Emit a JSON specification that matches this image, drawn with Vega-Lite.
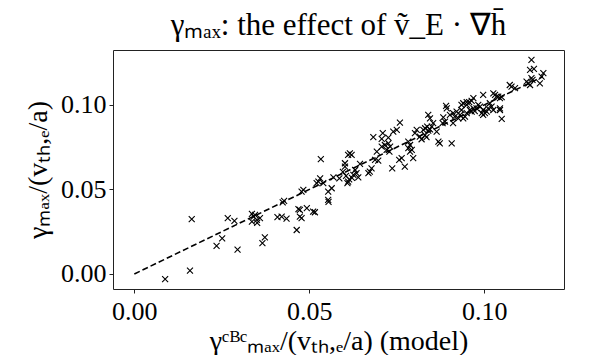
{
  "$schema": "https://vega.github.io/schema/vega-lite/v6.json",
  "width": 451,
  "height": 239,
  "autosize": {"type": "none"},
  "padding": {"left": 113, "top": 50, "right": 34, "bottom": 66},
  "background": "white",
  "config": {
    "view": {"stroke": "#222222", "strokeWidth": 1},
    "font": "Liberation Serif",
    "axis": {
      "grid": false,
      "domain": false,
      "tickColor": "#222222",
      "tickSize": 4,
      "labelFont": "Liberation Serif",
      "labelFontSize": 26,
      "labelColor": "black",
      "titleFont": "Liberation Serif",
      "titleFontSize": 28,
      "titleFontWeight": "normal",
      "titleColor": "black"
    }
  },
  "title": {
    "text": "γₘₐₓ: the effect of ṽ_E · ∇h̄",
    "font": "Liberation Serif",
    "fontSize": 31,
    "fontWeight": "normal",
    "color": "black",
    "anchor": "middle",
    "frame": "group",
    "baseline": "alphabetic",
    "offset": -16
  },
  "datasets": {
    "fit": [{"x": 0, "y": 0}, {"x": 0.1168, "y": 0.1168}],
    "pts": [
      {"x": 0.0088, "y": -0.0031}, {"x": 0.0159, "y": 0.0020}, {"x": 0.0164, "y": 0.0324}, {"x": 0.0235, "y": 0.0166},
      {"x": 0.0251, "y": 0.0211}, {"x": 0.0267, "y": 0.0330}, {"x": 0.0286, "y": 0.0314}, {"x": 0.0295, "y": 0.0144},
      {"x": 0.0336, "y": 0.0355}, {"x": 0.0341, "y": 0.0339}, {"x": 0.0345, "y": 0.0349}, {"x": 0.0350, "y": 0.0320},
      {"x": 0.0359, "y": 0.0330}, {"x": 0.0336, "y": 0.0309}, {"x": 0.0351, "y": 0.0302}, {"x": 0.0366, "y": 0.0182},
      {"x": 0.0373, "y": 0.0217}, {"x": 0.0409, "y": 0.0336}, {"x": 0.0421, "y": 0.0339}, {"x": 0.0435, "y": 0.0327},
      {"x": 0.0424, "y": 0.0424}, {"x": 0.0428, "y": 0.0432}, {"x": 0.0464, "y": 0.0260}, {"x": 0.0469, "y": 0.0383},
      {"x": 0.0473, "y": 0.0339}, {"x": 0.0478, "y": 0.0330}, {"x": 0.0473, "y": 0.0379}, {"x": 0.0478, "y": 0.0487},
      {"x": 0.0483, "y": 0.0497}, {"x": 0.0493, "y": 0.0389}, {"x": 0.0511, "y": 0.0369}, {"x": 0.0516, "y": 0.0365},
      {"x": 0.0533, "y": 0.0679}, {"x": 0.0531, "y": 0.0566}, {"x": 0.0526, "y": 0.0546}, {"x": 0.0521, "y": 0.0537},
      {"x": 0.0540, "y": 0.0537}, {"x": 0.0569, "y": 0.0572}, {"x": 0.0564, "y": 0.0507}, {"x": 0.0554, "y": 0.0487},
      {"x": 0.0554, "y": 0.0438}, {"x": 0.0555, "y": 0.0426}, {"x": 0.0586, "y": 0.0566}, {"x": 0.0602, "y": 0.0655},
      {"x": 0.0602, "y": 0.0635}, {"x": 0.0611, "y": 0.0704}, {"x": 0.0616, "y": 0.0714}, {"x": 0.0621, "y": 0.0704},
      {"x": 0.0596, "y": 0.0604}, {"x": 0.0605, "y": 0.0580}, {"x": 0.0611, "y": 0.0546}, {"x": 0.0614, "y": 0.0560},
      {"x": 0.0609, "y": 0.0537}, {"x": 0.0631, "y": 0.0615}, {"x": 0.0635, "y": 0.0596}, {"x": 0.0626, "y": 0.0586},
      {"x": 0.0640, "y": 0.0572}, {"x": 0.0622, "y": 0.0568}, {"x": 0.0645, "y": 0.0651}, {"x": 0.0673, "y": 0.0605},
      {"x": 0.0678, "y": 0.0625}, {"x": 0.0669, "y": 0.0596}, {"x": 0.0683, "y": 0.0809}, {"x": 0.0693, "y": 0.0724},
      {"x": 0.0697, "y": 0.0670}, {"x": 0.0688, "y": 0.0675}, {"x": 0.0707, "y": 0.0799}, {"x": 0.0710, "y": 0.0833},
      {"x": 0.0707, "y": 0.0753}, {"x": 0.0716, "y": 0.0763}, {"x": 0.0726, "y": 0.0773}, {"x": 0.0731, "y": 0.0753},
      {"x": 0.0721, "y": 0.0734}, {"x": 0.0729, "y": 0.0724}, {"x": 0.0726, "y": 0.0807}, {"x": 0.0737, "y": 0.0625},
      {"x": 0.0740, "y": 0.0842}, {"x": 0.0750, "y": 0.0852}, {"x": 0.0757, "y": 0.0675}, {"x": 0.0764, "y": 0.0685},
      {"x": 0.0773, "y": 0.0635}, {"x": 0.0759, "y": 0.0895}, {"x": 0.0783, "y": 0.0783}, {"x": 0.0788, "y": 0.0763},
      {"x": 0.0783, "y": 0.0744}, {"x": 0.0793, "y": 0.0734}, {"x": 0.0788, "y": 0.0724}, {"x": 0.0797, "y": 0.0685},
      {"x": 0.0802, "y": 0.0833}, {"x": 0.0807, "y": 0.0852}, {"x": 0.0816, "y": 0.0812}, {"x": 0.0821, "y": 0.0797},
      {"x": 0.0831, "y": 0.0822}, {"x": 0.0835, "y": 0.0809}, {"x": 0.0826, "y": 0.0852}, {"x": 0.0831, "y": 0.0862},
      {"x": 0.0837, "y": 0.0872}, {"x": 0.0840, "y": 0.0848}, {"x": 0.0845, "y": 0.0856}, {"x": 0.0840, "y": 0.0941},
      {"x": 0.0845, "y": 0.0921}, {"x": 0.0854, "y": 0.0892}, {"x": 0.0850, "y": 0.0872}, {"x": 0.0864, "y": 0.0842},
      {"x": 0.0869, "y": 0.0783}, {"x": 0.0873, "y": 0.0773}, {"x": 0.0883, "y": 0.0927}, {"x": 0.0881, "y": 0.0892},
      {"x": 0.0888, "y": 0.0901}, {"x": 0.0891, "y": 0.0994}, {"x": 0.0893, "y": 0.0980}, {"x": 0.0907, "y": 0.0773},
      {"x": 0.0902, "y": 0.0941}, {"x": 0.0911, "y": 0.0951}, {"x": 0.0916, "y": 0.0931}, {"x": 0.0921, "y": 0.0960},
      {"x": 0.0926, "y": 0.0921}, {"x": 0.0911, "y": 0.0892}, {"x": 0.0931, "y": 0.0941}, {"x": 0.0935, "y": 0.0970},
      {"x": 0.0935, "y": 0.1000}, {"x": 0.0940, "y": 0.1010}, {"x": 0.0950, "y": 0.1016}, {"x": 0.0957, "y": 0.1016},
      {"x": 0.0964, "y": 0.1024}, {"x": 0.0969, "y": 0.1040}, {"x": 0.0950, "y": 0.1000}, {"x": 0.0940, "y": 0.0921},
      {"x": 0.0945, "y": 0.0931}, {"x": 0.0950, "y": 0.0951}, {"x": 0.0969, "y": 0.0980}, {"x": 0.0973, "y": 0.0964},
      {"x": 0.0959, "y": 0.0970}, {"x": 0.0964, "y": 0.0960}, {"x": 0.0983, "y": 0.1000}, {"x": 0.0988, "y": 0.0990},
      {"x": 0.0978, "y": 0.0980}, {"x": 0.0997, "y": 0.1059}, {"x": 0.0997, "y": 0.0970}, {"x": 0.1002, "y": 0.0951},
      {"x": 0.0993, "y": 0.0951}, {"x": 0.0997, "y": 0.0941}, {"x": 0.1016, "y": 0.1010}, {"x": 0.1021, "y": 0.0990},
      {"x": 0.1026, "y": 0.0970}, {"x": 0.1011, "y": 0.0980}, {"x": 0.1007, "y": 0.0960}, {"x": 0.1026, "y": 0.1069},
      {"x": 0.1035, "y": 0.1049}, {"x": 0.1040, "y": 0.1049}, {"x": 0.1045, "y": 0.1040}, {"x": 0.1050, "y": 0.1046},
      {"x": 0.1031, "y": 0.1059}, {"x": 0.1045, "y": 0.0980}, {"x": 0.1045, "y": 0.0970}, {"x": 0.1050, "y": 0.0917},
      {"x": 0.1073, "y": 0.1118}, {"x": 0.1078, "y": 0.1108}, {"x": 0.1088, "y": 0.1099}, {"x": 0.1135, "y": 0.1266},
      {"x": 0.1131, "y": 0.1207}, {"x": 0.1142, "y": 0.1213}, {"x": 0.1169, "y": 0.1188}, {"x": 0.1164, "y": 0.1168},
      {"x": 0.1135, "y": 0.1158}, {"x": 0.1138, "y": 0.1148}, {"x": 0.1126, "y": 0.1128}, {"x": 0.1131, "y": 0.1118},
      {"x": 0.1159, "y": 0.1128}, {"x": 0.1121, "y": 0.1138}
    ]
  },
  "layer": [
    {
      "data": {"name": "fit"},
      "mark": {"type": "line", "color": "black", "strokeWidth": 1.6, "strokeDash": [6, 3]},
      "encoding": {
        "x": {"field": "x", "type": "quantitative"},
        "y": {"field": "y", "type": "quantitative"}
      }
    },
    {
      "data": {"name": "pts"},
      "mark": {"type": "point", "shape": "M -1 -1 L 1 1 M -1 1 L 1 -1", "filled": false, "color": "black", "strokeWidth": 1.1, "size": 36, "opacity": 1},
      "encoding": {
        "x": {
          "field": "x", "type": "quantitative",
          "scale": {"domain": [-0.0061, 0.1228], "nice": false, "zero": false},
          "axis": {"values": [0, 0.05, 0.1], "format": ".2f", "title": "γᶜᴮᶜₘₐₓ/(vₜₕ,ₑ/a) (model)", "labelPadding": 5, "titlePadding": 3}
        },
        "y": {
          "field": "y", "type": "quantitative",
          "scale": {"domain": [-0.0089, 0.1325], "nice": false, "zero": false},
          "axis": {"values": [0, 0.05, 0.1], "format": ".2f", "title": "γₘₐₓ/(vₜₕ,ₑ/a)", "labelPadding": 3, "titlePadding": 8}
        }
      }
    }
  ]
}
